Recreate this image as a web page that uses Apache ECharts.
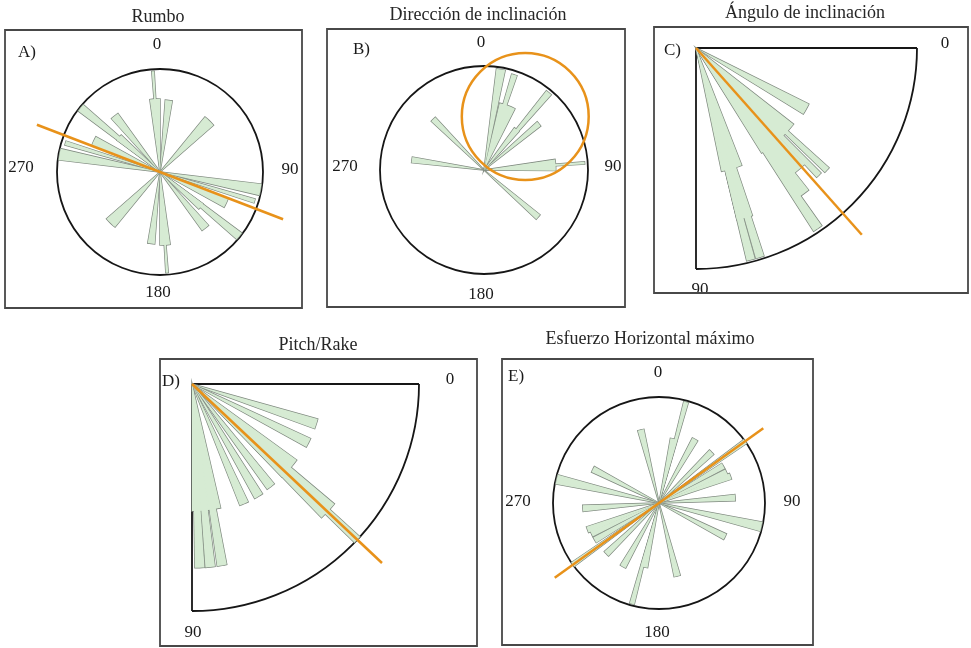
<!DOCTYPE html>
<html><head><meta charset="utf-8">
<script src="https://cdn.jsdelivr.net/npm/echarts@6/dist/echarts.min.js"></script>
<style>html,body{margin:0;padding:0;background:#fff}#c{width:971px;height:648px}</style>
</head><body><div id="c"></div>
<script>
// Petals: [direction (deg), half-width (deg), length (fraction of plot radius)]
const petalsA = [[356,0.7,0.98],[356,4.0,0.71],[7,2.8,0.70],[44,4.8,0.69],[100,3.2,0.99],[107,1.2,0.96],[115,3.8,0.71],[129,2.3,0.99],[130,3.6,0.52],[141,3.3,0.70]];
const petalsB = [[9.5,2.5,0.98],[17.7,1.6,0.96],[20,6.8,0.66],[40,1.8,0.97],[39,3.3,0.50],[50,2.2,0.69],[86,0.7,0.97],[86,4.5,0.69],[131,2.3,0.69],[278,2.2,0.70],[315,2.3,0.69]];
const petalsC = [[29,2.6,0.57],[48,10,0.56],[43,1.0,0.81],[46,1.0,0.80],[51,4.2,0.72],[54,2.4,0.82],[56,1.3,0.985],[73.5,4.8,0.57],[74,2.6,0.80],[73,1.1,0.99],[75.5,1.1,0.99]];
const petalsD = [[17.8,2.2,0.575],[26.8,2.1,0.575],[41,5,0.57],[43,2.9,0.82],[43.3,1.0,1.0],[52.5,2.0,0.57],[59.3,2.0,0.575],[66.5,2.0,0.575],[83.5,6.5,0.56],[80.6,1.5,0.81],[84.3,1.5,0.81],[87.6,1.5,0.81]];
const petalsE = [[15,1.3,0.985],[13,3.0,0.62],[29.5,2.4,0.69],[46,2.4,0.69],[54.5,1.3,1.0],[60,2.3,0.70],[65.5,2.3,0.70],[69.5,2.3,0.72],[86,2.4,0.72],[103,2.6,0.99],[117,2.4,0.70],[346,2.4,0.71]];
// Mean direction lines: [direction (deg), length]
const meanA = [[111,1.28]];
const meanC = [[48.4,1.13]];
const meanD = [[43.3,1.15]];
const meanE = [[54.4,1.21]];
// Confidence circle B: [direction of centre (deg), distance of centre, circle radius]
const circleB = [[37.6,0.65,0.61]];
const titles = ['Rumbo','Dirección de inclinación','Ángulo de inclinación','Pitch/Rake','Esfuerzo Horizontal máximo'];
const letters = ['A)','B)','C)','D)','E)'];
const compassLabels = ['0','90','180','270'];
const quarterLabels = ['0','90'];

const FONT = '"Liberation Serif","DejaVu Serif",serif';
const FILL = '#d6ebd3', EDGE = '#7f897f', ORANGE = '#e8921a';

const panels = [
  {center:[160,172], r:103, kind:'full', axial:true, petals:petalsA, box:[5,30,297,278], title:[158,17], letter:[18,53],
   labels:[[157,45],[290,170],[158,293],[21,168]]},
  {center:[484,170], r:104, kind:'full', axial:false, petals:petalsB, box:[327,29,298,278], title:[478,15], letter:[353,50],
   labels:[[481,43],[613,167],[481,295],[345,167]]},
  {center:[696,48], r:221, kind:'quarter', axial:false, petals:petalsC, box:[654,27,314,266], title:[805,13], letter:[664,51],
   labels:[[945,44],[700,290]]},
  {center:[192,384], r:227, kind:'quarter', axial:false, petals:petalsD, box:[160,359,317,287], title:[318,345], letter:[162,382],
   labels:[[450,380],[193,633]]},
  {center:[659,503], r:106, kind:'full', axial:true, petals:petalsE, box:[502,359,311,286], title:[650,339], letter:[508,377],
   labels:[[658,373],[792,502],[657,633],[518,502]]}
];

function petalRender(axial, withEdge){
  return function(params, api){
    const a = api.value(0), hw = api.value(1), len = api.value(2);
    const dirs = axial ? [a, (a+180)%360] : [a];
    const children = dirs.map(function(d){
      const pts = [api.coord([0, d])];
      for (let k=0;k<=4;k++) pts.push(api.coord([len, d - hw + k*hw/2]));
      return {type:'polygon', shape:{points:pts},
        style: withEdge ? {fill:FILL, stroke:EDGE, lineWidth:1.4} : {fill:FILL, stroke:null}};
    });
    return {type:'group', children:children};
  };
}
function meanRender(axial){
  return function(params, api){
    const a = api.value(0), len = api.value(1);
    const p1 = api.coord([len, a]);
    const p0 = axial ? api.coord([len, (a+180)%360]) : api.coord([0, a]);
    return {type:'line', shape:{x1:p0[0],y1:p0[1],x2:p1[0],y2:p1[1]}, style:{stroke:ORANGE, lineWidth:2.5}};
  };
}
function circleRender(params, api){
  const c = api.coord([api.value(1), api.value(0)]);
  const o = api.coord([0,0]);
  const e = api.coord([api.value(2),0]);
  const r = Math.hypot(e[0]-o[0], e[1]-o[1]);
  return {type:'circle', shape:{cx:c[0],cy:c[1],r:r}, style:{fill:null, stroke:ORANGE, lineWidth:2.5}};
}

const polar = [], angleAxis = [], radiusAxis = [], series = [], graphics = [];
panels.forEach(function(p, i){
  polar.push({center:p.center, radius:p.r});
  const axisLine = {show:true, lineStyle:{color:'#161616', width:1.8}};
  if (p.kind === 'full') {
    angleAxis.push({polarIndex:i, type:'value', min:0, max:360, startAngle:90, clockwise:true,
      axisLine:axisLine, axisTick:{show:false}, axisLabel:{show:false}, splitLine:{show:false}});
  } else {
    angleAxis.push({polarIndex:i, type:'value', min:0, max:90, interval:90, startAngle:0, endAngle:-90, clockwise:true,
      axisLine:axisLine, axisTick:{show:false}, axisLabel:{show:false},
      splitLine:{show:true, lineStyle:{color:'#161616', width:1.8, type:'solid'}}});
  }
  radiusAxis.push({polarIndex:i, type:'value', min:0, max:1, show:false});
  series.push({type:'custom', coordinateSystem:'polar', polarIndex:i, data:p.petals, renderItem:petalRender(p.axial, true), z:2, silent:true});
  series.push({type:'custom', coordinateSystem:'polar', polarIndex:i, data:p.petals, renderItem:petalRender(p.axial, false), z:3, silent:true});

  graphics.push({type:'rect', shape:{x:p.box[0], y:p.box[1], width:p.box[2], height:p.box[3]},
    style:{fill:null, stroke:'#484848', lineWidth:1.8}, z:1});
  graphics.push({type:'text', x:p.title[0], y:p.title[1],
    style:{text:titles[i], font:'18px '+FONT, fill:'#262626', align:'center', verticalAlign:'middle', textAlign:'center', textVerticalAlign:'middle'}});
  graphics.push({type:'text', x:p.letter[0], y:p.letter[1],
    style:{text:letters[i], font:'17px '+FONT, fill:'#1a1a1a', align:'left', verticalAlign:'middle', textAlign:'left', textVerticalAlign:'middle'}});
  const labs = p.kind === 'full' ? compassLabels : quarterLabels;
  labs.forEach(function(t, k){
    graphics.push({type:'text', x:p.labels[k][0], y:p.labels[k][1],
      style:{text:t, font:'17px '+FONT, fill:'#1a1a1a', align:'center', verticalAlign:'middle', textAlign:'center', textVerticalAlign:'middle'}});
  });
});
series.push({type:'custom', coordinateSystem:'polar', polarIndex:0, data:meanA, renderItem:meanRender(true), z:5, silent:true});
series.push({type:'custom', coordinateSystem:'polar', polarIndex:1, data:circleB, renderItem:circleRender, z:5, silent:true});
series.push({type:'custom', coordinateSystem:'polar', polarIndex:2, data:meanC, renderItem:meanRender(false), z:5, silent:true});
series.push({type:'custom', coordinateSystem:'polar', polarIndex:3, data:meanD, renderItem:meanRender(false), z:5, silent:true});
series.push({type:'custom', coordinateSystem:'polar', polarIndex:4, data:meanE, renderItem:meanRender(true), z:5, silent:true});

const chart = echarts.init(document.getElementById('c'), null, {renderer:'canvas'});
chart.setOption({animation:false, backgroundColor:'#ffffff', polar:polar, angleAxis:angleAxis, radiusAxis:radiusAxis, series:series, graphic:{elements:graphics}});
</script></body></html>
